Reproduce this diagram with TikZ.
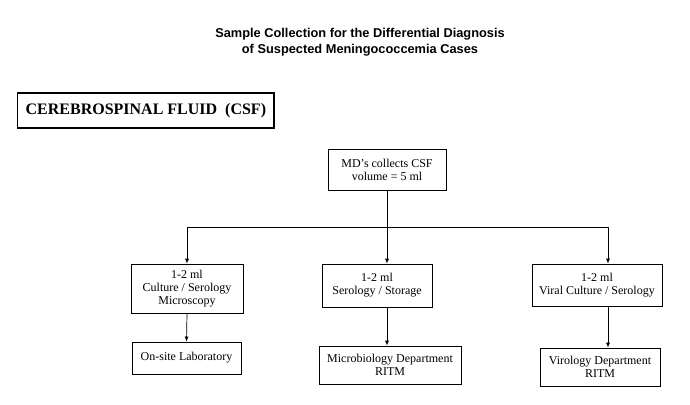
\documentclass[tikz,border=0pt]{standalone}
\usepackage{fontspec}
\setmainfont{Liberation Serif}
\newfontfamily\headfont{Liberation Sans}
\usetikzlibrary{arrows.meta,positioning}
\tikzset{
  stagebox/.style={draw=black,line width=0.7pt,align=center,inner sep=2pt,
    font=\fontsize{12}{13}\selectfont},
  flow/.style={draw=black,line width=0.7pt},
  flowarr/.style={flow,-{Latex[length=5pt,width=4pt]}}
}

\begin{document}
\begin{tikzpicture}[x=1pt,y=-1pt]
  % page frame, pixel-like units (y grows downward)
  \useasboundingbox (0,0) rectangle (690,404);
  % heading
  \node[align=center,font=\headfont\bfseries\fontsize{12.8}{16.5}\selectfont] (title) at (360,42)
    {Sample Collection for the Differential Diagnosis\\of Suspected Meningococcemia Cases};
  \node[draw=black,line width=1.3pt,anchor=west,inner xsep=8pt,minimum height=35pt,
    font=\bfseries\fontsize{16}{18}\selectfont] (csf) at (17,110.5)
    {CEREBROSPINAL FLUID\ \ (CSF)};
  % top of the tree
  \node[stagebox,minimum width=118pt,minimum height=41pt] (md) at (387,169.5)
    {MD’s collects CSF\\ volume = 5 ml};
  % second row: split of the sample
  \node[stagebox,minimum width=112pt,minimum height=49pt] (cult) at (187,288.5)
    {1-2 ml\\Culture / Serology\\Microscopy};
  \node[stagebox,minimum width=110pt,minimum height=43pt] (sero) at (377,285.5)
    {1-2 ml\\Serology / Storage};
  \node[stagebox,minimum width=130pt,minimum height=42pt] (viral) at (597,285)
    {1-2 ml\\Viral Culture / Serology};
  % third row: where it goes
  \node[stagebox,minimum width=109pt,minimum height=32pt] (onsite) at (186.5,358)
    {On-site Laboratory};
  \node[stagebox,minimum width=142pt,minimum height=38pt] (micro) at (390,365)
    {Microbiology Department\\RITM};
  \node[stagebox,minimum width=120pt,minimum height=38pt] (viro) at (600,367)
    {Virology Department\\RITM};
  % branch line
  \coordinate (brL) at (187,227);
  \coordinate (brR) at (608,227);
  \draw[flow] (brL) -- (brR);
  \draw[flowarr] (brL) -- (cult.north);
  \draw[flowarr] (md.south) -- (md.south |- sero.north);
  \draw[flowarr] (brR) -- (brR |- viral.north);
  % down to the labs
  \draw[flowarr] (cult.south) -- (onsite.north);
  \draw[flowarr] (md.south |- sero.south) -- (md.south |- micro.north);
  \draw[flowarr] (brR |- viral.south) -- (brR |- viro.north);
\end{tikzpicture}
\end{document}
